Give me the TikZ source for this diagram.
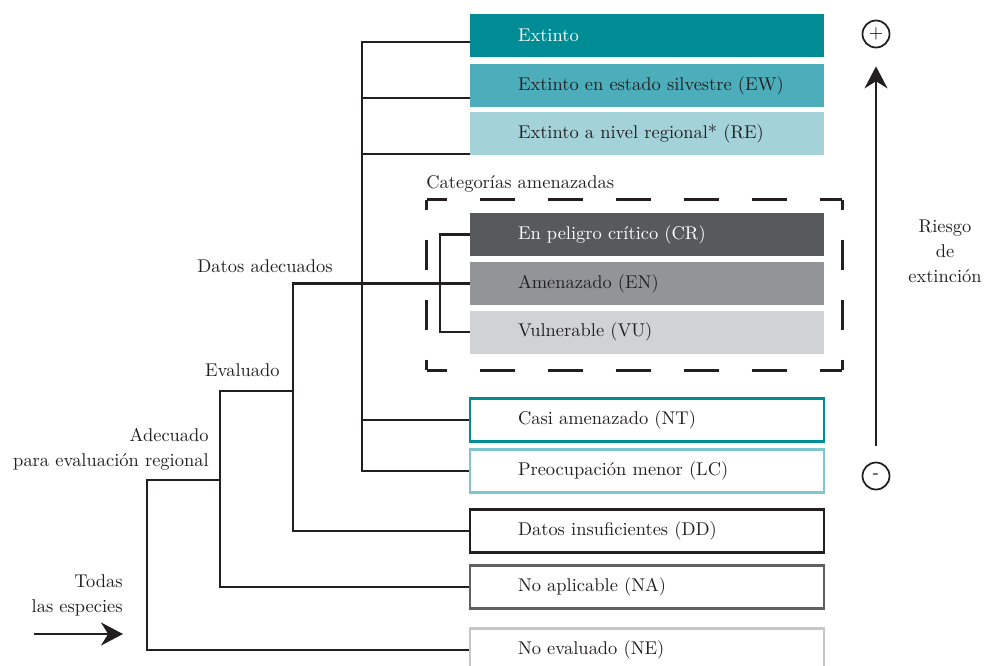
\documentclass[tikz,border=0pt]{standalone}
\usepackage{tikz}
\usetikzlibrary{calc}
\usetikzlibrary{arrows.meta,positioning}

\definecolor{tealEX}{HTML}{008C95}
\definecolor{tealEW}{HTML}{4BAEBA}
\definecolor{tealRE}{HTML}{A3D2D9}
\definecolor{greyCR}{HTML}{58595B}
\definecolor{greyEN}{HTML}{929497}
\definecolor{greyVU}{HTML}{D1D2D4}
\definecolor{tealLC}{HTML}{7CC6CF}
\definecolor{inkDD}{HTML}{231F20}
\definecolor{greyNA}{HTML}{5F6062}
\definecolor{greyNE}{HTML}{C5C6C8}

\newcommand{\CatFont}{\fontsize{10.5}{14.2}\selectfont}

\tikzset{
  catbox/.style={minimum width=7.08cm, minimum height=.86cm, inner xsep=0pt, inner ysep=0pt,
    text width=7.08cm, align=left, font=\CatFont, text=inkDD,
    execute at begin node={\hspace*{.96cm}}},
  catfill/.style={catbox, fill=#1},
  catline/.style={catbox, draw=#1, line width=1.4pt},
  tree/.style={line width=1.3pt, inkDD},
  lbl/.style={font=\CatFont, text=inkDD, inner sep=0pt},
  dashside/.style={line width=1.5pt, inkDD, dash pattern=on .7cm off .66cm},
  riskdot/.style={circle, draw=inkDD, line width=1pt, minimum size=.54cm, inner sep=0pt, font=\CatFont},
  riskarrow/.style={line width=1.3pt, inkDD, -{Stealth[length=.44cm,width=.46cm]}},
}

\begin{document}
\begin{tikzpicture}[node distance=1cm]
  \useasboundingbox (0,0) rectangle (19.72,-13.3);

  % categories, top to bottom
  \node[catfill=tealEX, text=white] (ex) at (12.94,-.71) {Extinto};
  \node[catfill=tealEW, node distance=1cm] (ew) [below of=ex] {Extinto en estado silvestre (EW)};
  \node[catfill=tealRE, node distance=.96cm] (re) [below of=ew] {Extinto a nivel regional* (RE)};
  \node[catfill=greyCR, text=white, node distance=2.02cm] (cr) [below of=re] {En peligro cr\'itico (CR)};
  \node[catfill=greyEN, node distance=.98cm] (en) [below of=cr] {Amenazado (EN)};
  \node[catfill=greyVU, node distance=.97cm] (vu) [below of=en] {Vulnerable (VU)};
  \node[catline=tealEX, node distance=1.76cm] (nt) [below of=vu] {Casi amenazado (NT)};
  \node[catline=tealLC, node distance=1.02cm] (lc) [below of=nt] {Preocupaci\'on menor (LC)};
  \node[catline=inkDD, node distance=1.2cm] (dd) [below of=lc] {Datos insuficientes (DD)};
  \node[catline=greyNA, node distance=1.12cm] (na) [below of=dd] {No aplicable (NA)};
  \node[catline=greyNE, node distance=1.26cm] (ne) [below of=na] {No evaluado (NE)};

  % threatened group
  \node[minimum width=8.3cm, minimum height=3.4cm] (thr) at (12.69,-5.7) {};
  \draw[dashside, dash phase=.3cm] (thr.north west) -- (thr.north east);
  \draw[dashside, dash phase=.3cm] (thr.south west) -- (thr.south east);
  \draw[dashside, dash pattern=on .6cm off .6cm, dash phase=.4cm] (thr.north west) -- (thr.south west);
  \draw[dashside, dash pattern=on .6cm off .6cm, dash phase=.4cm] (thr.north east) -- (thr.south east);
  \node[lbl, anchor=base west] (thrlbl) at (8.52,-3.76) {Categor\'ias amenazadas};

  % tree
  \coordinate (c3) at (5.86,0);
  \coordinate (c4) at (7.24,0);
  \coordinate (c5) at (8.8,0);
  \coordinate (ev) at (4.4,-7.82);
  \coordinate (ad) at (2.94,-9.6);
  \coordinate (bew) at ($(ew.west)+(0,-.25)$);
  \coordinate (bre) at ($(re.west)+(0,-.41)$);

  \draw[tree] ($(ex.west)+(0,-.13)$) -| (c4 |- lc.west) -- (lc.west);
  \draw[tree] (bew) -- (bew -| c4);
  \draw[tree] (bre) -- (bre -| c4);
  \draw[tree] (nt.west) -- (nt.west -| c4);
  \draw[tree] (cr.west) -| (c5 |- vu.west) -- (vu.west);
  \draw[tree] (en.west) -| (c3 |- dd.west) -- (dd.west);
  \draw[tree] (ev -| c3) -- (ev) |- (na.west);
  \draw[tree] (ad -| ev) -- (ad) |- (ne.west);

  \node[lbl, anchor=base east] (lda) at (6.66,-5.44) {Datos adecuados};
  \node[lbl, anchor=base east] (lev) at (5.6,-7.52) {Evaluado};
  \node[lbl, align=right, anchor=south east] (lad) at (4.18,-9.42) {Adecuado\\para evaluaci\'on regional};

  % all species
  \coordinate (tsa) at (.68,-12.68);
  \coordinate (tsb) at (2.46,-12.68);
  \draw[riskarrow] (tsa) -- (tsb);
  \node[lbl, align=right, anchor=south east] (lts) at (2.46,-12.32) {Todas\\las especies};

  % extinction risk
  \node[riskdot] (plus) at (17.52,-.68) {+};
  \node[riskdot] (minus) at (17.52,-9.52) {-};
  \draw[riskarrow, shorten <=.32cm, shorten >=.36cm] (minus) -- (plus);
  \node[lbl, align=center] (risk) at (18.9,-5.02) {Riesgo\\de\\extinci\'on};
\end{tikzpicture}
\end{document}
